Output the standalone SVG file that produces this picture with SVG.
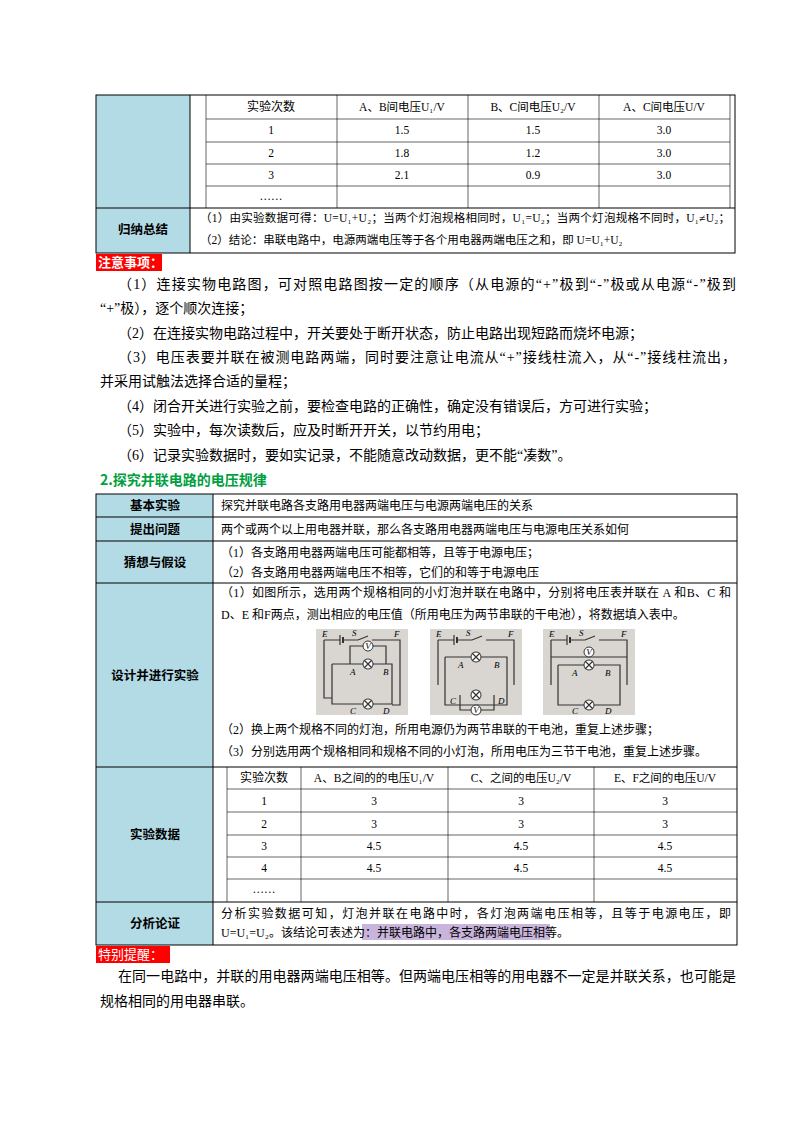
<svg xmlns="http://www.w3.org/2000/svg" width="800" height="1132" viewBox="0 0 800 1132">
<style>
text{font-family:"Liberation Serif","Noto Sans CJK SC",serif;fill:#000}
.s{font-size:11.5px}
.m{font-size:12px}
.p{font-size:14px}
.h{font-size:12.5px;font-weight:bold;font-family:"Noto Sans CJK SC",sans-serif}
.c{text-anchor:middle}
.ln{stroke:#000;stroke-width:1;fill:none}
.th{stroke:#000;stroke-width:0.6;fill:none}
.lb{fill:#b3dbe6}
.w{stroke:#333;stroke-width:1.2;fill:none}
.lt{font-size:9px;font-style:italic}
</style>
<rect width="800" height="1132" fill="#fff"/>
<g id="table1">
<rect class="lb" x="96" y="95" width="94" height="158"/>
<rect class="ln" x="96" y="95" width="639" height="158"/>
<line class="ln" x1="190" y1="95" x2="190" y2="253"/>
<line class="ln" x1="96" y1="208" x2="735" y2="208"/>
<g class="th">
<line x1="206" y1="95" x2="206" y2="208"/><line x1="337" y1="95" x2="337" y2="208"/><line x1="468" y1="95" x2="468" y2="208"/><line x1="599" y1="95" x2="599" y2="208"/><line x1="730" y1="95" x2="730" y2="208"/>
<line x1="206" y1="119" x2="730" y2="119"/><line x1="206" y1="142" x2="730" y2="142"/><line x1="206" y1="164" x2="730" y2="164"/><line x1="206" y1="186" x2="730" y2="186"/>
</g>
<g class="s c">
<text x="271" y="111" class="m c">实验次数</text><text x="402" y="111" class="s c">A、B间电压U₁/V</text><text x="533" y="111" class="s c">B、C间电压U₂/V</text><text x="664" y="111" class="s c">A、C间电压U/V</text>
<text x="271" y="134" class="s c">1</text><text x="402" y="134" class="s c">1.5</text><text x="533" y="134" class="s c">1.5</text><text x="664" y="134" class="s c">3.0</text>
<text x="271" y="157" class="s c">2</text><text x="402" y="157" class="s c">1.8</text><text x="533" y="157" class="s c">1.2</text><text x="664" y="157" class="s c">3.0</text>
<text x="271" y="179" class="s c">3</text><text x="402" y="179" class="s c">2.1</text><text x="533" y="179" class="s c">0.9</text><text x="664" y="179" class="s c">3.0</text>
<text x="271" y="200" class="s c">……</text>
</g>
<text x="143" y="234" class="h c">归纳总结</text>
<text x="200" y="222" class="s" textLength="530">（1）由实验数据可得：U=U₁+U₂；当两个灯泡规格相同时，U₁=U₂；当两个灯泡规格不同时，U₁≠U₂；</text>
<text x="200" y="244" class="s">（2）结论：串联电路中，电源两端电压等于各个用电器两端电压之和，即 U=U₁+U₂</text>
</g>
<g id="notes">
<rect x="96" y="254" width="66" height="17" fill="#ff0000"/>
<text x="98" y="267" style="font-size:13px;font-weight:bold;fill:#fff;font-family:'Noto Sans CJK SC',sans-serif">注意事项：</text>
<text x="118" y="289" class="p" textLength="618">（1）连接实物电路图，可对照电路图按一定的顺序（从电源的“+”极到“-”极或从电源“-”极到</text>
<text x="100" y="313" class="p">“+”极），逐个顺次连接；</text>
<text x="118" y="338" class="p">（2）在连接实物电路过程中，开关要处于断开状态，防止电路出现短路而烧坏电源；</text>
<text x="118" y="362" class="p" textLength="618">（3）电压表要并联在被测电路两端，同时要注意让电流从“+”接线柱流入，从“-”接线柱流出，</text>
<text x="100" y="386" class="p">并采用试触法选择合适的量程；</text>
<text x="118" y="411" class="p">（4）闭合开关进行实验之前，要检查电路的正确性，确定没有错误后，方可进行实验；</text>
<text x="118" y="435" class="p">（5）实验中，每次读数后，应及时断开开关，以节约用电；</text>
<text x="118" y="460" class="p">（6）记录实验数据时，要如实记录，不能随意改动数据，更不能“凑数”。</text>
</g>
<text x="100" y="485" style="font-size:14px;font-weight:bold;fill:#00a040;font-family:'Noto Sans CJK SC',sans-serif">2.探究并联电路的电压规律</text>
<g id="table2">
<rect class="lb" x="96" y="494" width="117" height="451"/>
<rect class="ln" x="96" y="494" width="641" height="451"/>
<line class="ln" x1="213" y1="494" x2="213" y2="945"/>
<g class="ln">
<line x1="96" y1="517" x2="737" y2="517"/><line x1="96" y1="541" x2="737" y2="541"/><line x1="96" y1="583" x2="737" y2="583"/><line x1="96" y1="767" x2="737" y2="767"/><line x1="96" y1="902" x2="737" y2="902"/>
</g>
<text x="155" y="510" class="h c">基本实验</text>
<text x="155" y="534" class="h c">提出问题</text>
<text x="155" y="567" class="h c">猜想与假设</text>
<text x="155" y="680" class="h c">设计并进行实验</text>
<text x="155" y="839" class="h c">实验数据</text>
<text x="155" y="928" class="h c">分析论证</text>
<text x="221" y="510" class="m">探究并联电路各支路用电器两端电压与电源两端电压的关系</text>
<text x="221" y="534" class="m">两个或两个以上用电器并联，那么各支路用电器两端电压与电源电压关系如何</text>
<text x="221" y="557" class="m">（1）各支路用电器两端电压可能都相等，且等于电源电压；</text>
<text x="221" y="577" class="m">（2）各支路用电器两端电压不相等，它们的和等于电源电压</text>
<text x="221" y="597" class="m" textLength="510">（1）如图所示，选用两个规格相同的小灯泡并联在电路中，分别将电压表并联在 A 和B、C 和</text>
<text x="221" y="619" class="m">D、E 和F两点，测出相应的电压值（所用电压为两节串联的干电池），将数据填入表中。</text>
<text x="221" y="734" class="m">（2）换上两个规格不同的灯泡，所用电源仍为两节串联的干电池，重复上述步骤；</text>
<text x="221" y="756" class="m">（3）分别选用两个规格相同和规格不同的小灯泡，所用电压为三节干电池，重复上述步骤。</text>
<g class="th">
<line x1="227" y1="767" x2="227" y2="902"/><line x1="301" y1="767" x2="301" y2="902"/><line x1="448" y1="767" x2="448" y2="902"/><line x1="594" y1="767" x2="594" y2="902"/>
<line x1="227" y1="789" x2="737" y2="789"/><line x1="227" y1="812" x2="737" y2="812"/><line x1="227" y1="835" x2="737" y2="835"/><line x1="227" y1="857" x2="737" y2="857"/><line x1="227" y1="879" x2="737" y2="879"/>
</g>
<text x="264" y="782" class="m c">实验次数</text><text x="374" y="782" class="s c">A、B之间的的电压U₁/V</text><text x="521" y="782" class="s c">C、之间的电压U₂/V</text><text x="665" y="782" class="s c">E、F之间的电压U/V</text>
<text x="264" y="805" class="s c">1</text><text x="374" y="805" class="s c">3</text><text x="521" y="805" class="s c">3</text><text x="665" y="805" class="s c">3</text>
<text x="264" y="828" class="s c">2</text><text x="374" y="828" class="s c">3</text><text x="521" y="828" class="s c">3</text><text x="665" y="828" class="s c">3</text>
<text x="264" y="850" class="s c">3</text><text x="374" y="850" class="s c">4.5</text><text x="521" y="850" class="s c">4.5</text><text x="665" y="850" class="s c">4.5</text>
<text x="264" y="872" class="s c">4</text><text x="374" y="872" class="s c">4.5</text><text x="521" y="872" class="s c">4.5</text><text x="665" y="872" class="s c">4.5</text>
<text x="264" y="893" class="s c">……</text>
<rect x="362" y="924" width="188" height="16" fill="#c9b5dc"/>
<text x="221" y="918" class="m" textLength="510">分析实验数据可知，灯泡并联在电路中时，各灯泡两端电压相等，且等于电源电压，即</text>
<text x="221" y="937" class="m">U=U₁=U₂。该结论可表述为：并联电路中，各支路两端电压相等。</text>
</g>
<g id="photo1">
<rect x="316" y="629" width="92" height="86" fill="#d9d6d2"/>
<path class="w" d="M324 640h16M344 640h14l10-4M372 640h28v65h-8M324 640v58h8M332 664v40h60v-40h-60M350 664v-18h36v18"/>
<line x1="340" y1="635" x2="340" y2="645" stroke="#333" stroke-width="1.2"/><line x1="343" y1="637" x2="343" y2="643" stroke="#333" stroke-width="2"/>
<circle cx="368" cy="646" r="5" fill="#fff" stroke="#333"/><text x="368" y="649" class="lt c">V</text>
<circle cx="368" cy="664" r="5" fill="#fff" stroke="#333"/><path class="w" d="M364 660l8 8M372 660l-8 8"/>
<circle cx="368" cy="704" r="5" fill="#fff" stroke="#333"/><path class="w" d="M364 700l8 8M372 700l-8 8"/>
<text x="322" y="637" class="lt">E</text><text x="352" y="636" class="lt">S</text><text x="394" y="637" class="lt">F</text>
<text x="350" y="675" class="lt">A</text><text x="383" y="675" class="lt">B</text><text x="350" y="714" class="lt">C</text><text x="383" y="714" class="lt">D</text>
</g>
<g id="photo2">
<rect x="430" y="629" width="92" height="86" fill="#d9d6d2"/>
<path class="w" d="M438 640h16M458 640h14l10-4M486 640h28v45M438 640v45M445 657v48h62v-48h-62M460 695v15h34v-15"/>
<line x1="454" y1="635" x2="454" y2="645" stroke="#333" stroke-width="1.2"/><line x1="457" y1="637" x2="457" y2="643" stroke="#333" stroke-width="2"/>
<circle cx="476" cy="657" r="5" fill="#fff" stroke="#333"/><path class="w" d="M472 653l8 8M480 653l-8 8"/>
<circle cx="476" cy="695" r="5" fill="#fff" stroke="#333"/><path class="w" d="M472 691l8 8M480 691l-8 8"/>
<circle cx="476" cy="710" r="5" fill="#fff" stroke="#333"/><text x="476" y="713" class="lt c">V</text>
<text x="436" y="637" class="lt">E</text><text x="466" y="636" class="lt">S</text><text x="508" y="637" class="lt">F</text>
<text x="458" y="668" class="lt">A</text><text x="494" y="668" class="lt">B</text><text x="450" y="704" class="lt">C</text><text x="498" y="704" class="lt">D</text>
</g>
<g id="photo3">
<rect x="543" y="629" width="92" height="86" fill="#d9d6d2"/>
<path class="w" d="M551 640h16M571 640h14l10-4M599 640h28v45M551 640v45M558 665v40h62v-40h-62M551 640v17h76"/>
<line x1="567" y1="635" x2="567" y2="645" stroke="#333" stroke-width="1.2"/><line x1="570" y1="637" x2="570" y2="643" stroke="#333" stroke-width="2"/>
<circle cx="589" cy="652" r="5" fill="#fff" stroke="#333"/><text x="589" y="655" class="lt c">V</text>
<circle cx="589" cy="665" r="5" fill="#fff" stroke="#333"/><path class="w" d="M585 661l8 8M593 661l-8 8"/>
<circle cx="589" cy="705" r="5" fill="#fff" stroke="#333"/><path class="w" d="M585 701l8 8M593 701l-8 8"/>
<text x="549" y="637" class="lt">E</text><text x="579" y="636" class="lt">S</text><text x="621" y="637" class="lt">F</text>
<text x="572" y="676" class="lt">A</text><text x="605" y="676" class="lt">B</text><text x="572" y="714" class="lt">C</text><text x="605" y="714" class="lt">D</text>
</g>
<g id="reminder">
<rect x="96" y="946" width="74" height="17" fill="#ff0000"/>
<text x="98" y="959" style="font-size:13px;fill:#fff;font-family:'Noto Sans CJK SC',sans-serif">特别提醒：</text>
<text x="118" y="981" class="p" textLength="618">在同一电路中，并联的用电器两端电压相等。但两端电压相等的用电器不一定是并联关系，也可能是</text>
<text x="100" y="1006" class="p">规格相同的用电器串联。</text>
</g>
</svg>
